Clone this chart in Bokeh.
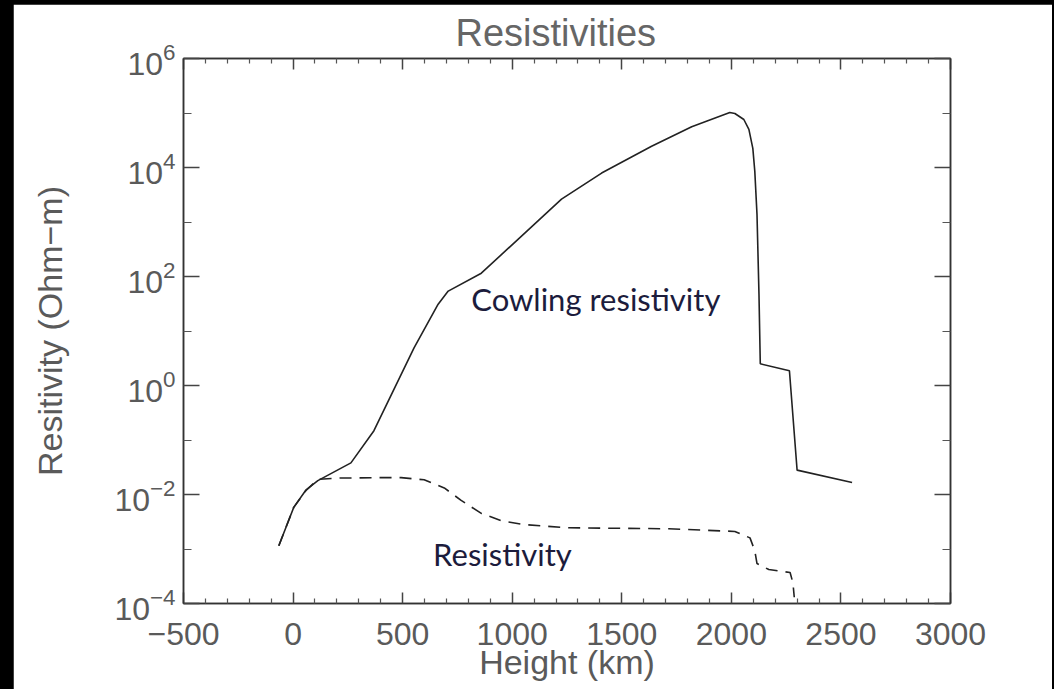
from bokeh.plotting import figure
from bokeh.models import (LinearAxis, LogAxis, FixedTicker, CustomJSTickFormatter,
                          Label, Range1d)
from bokeh.layouts import column
from bokeh.embed import file_html
from bokeh.resources import INLINE

# ---------------- data ----------------
cowling_height = [-65, 3, 58, 113, 264, 369, 552, 662, 708, 859, 1225, 1408,
                  1636, 1819, 1993, 2016, 2057, 2080, 2098, 2107, 2117, 2126, 2132,
                  2265, 2300, 2551]
cowling_res = [1.15e-3, 5.8e-3, 1.2e-2, 1.8e-2, 3.8e-2, 0.148, 4.9, 31, 54, 115, 2630,
               7900, 24500, 56000, 102000, 98000, 76000, 50000, 22400, 8500,
               1380, 48, 2.5, 1.86, 0.028, 0.0166]

res_height = [-65, 3, 58, 113, 200, 400, 493, 598, 690, 767, 859, 950, 1055, 1257,
              1714, 2016, 2085, 2107, 2117, 2171, 2268, 2281, 2287]
res_res = [1.15e-3, 5.8e-3, 1.17e-2, 1.9e-2, 2.0e-2, 2.04e-2, 2.04e-2, 1.86e-2,
           1.32e-2, 7.8e-3, 4.5e-3, 3.3e-3, 2.8e-3, 2.45e-3, 2.35e-3, 2.1e-3, 1.6e-3,
           9.3e-4, 5.4e-4, 4.2e-4, 3.7e-4, 2.4e-4, 1.3e-4]

x_major = [-500, 0, 500, 1000, 1500, 2000, 2500, 3000]
x_minor = [v for v in range(-500, 3001, 100) if v % 500 != 0]
y_major = [1e-4, 1e-2, 1e0, 1e2, 1e4, 1e6]
y_minor = [1e-3, 1e-1, 1e1, 1e3, 1e5]
x_label_overrides = {-500: "\u2212500"}

title_text = "Resistivities"
x_title = "Height (km)"
y_title = "Resitivity (Ohm\u2212m)"
cowling_label = "Cowling resistivity"
res_label = "Resistivity"

# ---------------- figure ----------------
AX = "#333333"
TXT = "#5a5a5a"
FONT = "Liberation Sans"

p = figure(width=1039, height=685, x_range=Range1d(-500, 3000),
           y_range=Range1d(1e-4, 1e6), y_axis_type="log",
           output_backend="svg", toolbar_location=None,
           min_border_left=170, min_border_right=102, min_border_top=53,
           min_border_bottom=86, margin=(4, 2, 0, 13),
           background_fill_color="white", border_fill_color="white")

p.title.text = title_text
p.title.align = "left"
p.title.offset = 272
p.title.text_font = FONT
p.title.text_font_size = "38px"
p.title.text_font_style = "normal"
p.title.text_color = "#666666"

p.xgrid.grid_line_color = None
p.ygrid.grid_line_color = None
p.outline_line_color = AX
p.outline_line_width = 1.5
p.outline_line_alpha = 1.0

xt = FixedTicker(ticks=x_major, minor_ticks=x_minor)
yt = FixedTicker(ticks=y_major, minor_ticks=y_minor)

xa = p.xaxis[0]
xa.ticker = xt
xa.major_label_overrides = x_label_overrides
ya = p.yaxis[0]
ya.ticker = yt

blank = CustomJSTickFormatter(code="return ''")
top = LinearAxis(ticker=xt, formatter=blank, major_label_text_font_size="1px",
                 major_label_standoff=0)
right = LogAxis(ticker=yt, formatter=blank, major_label_text_font_size="1px",
                major_label_standoff=0)
p.add_layout(top, "above")
p.add_layout(right, "right")

for ax in (xa, top):
    ax.major_tick_in = 11
    ax.major_tick_out = 0
    ax.minor_tick_in = 5
    ax.minor_tick_out = 0
for ax in (ya, right):
    ax.major_tick_in = 16
    ax.major_tick_out = 0
    ax.minor_tick_in = 8
    ax.minor_tick_out = 0
for ax in (xa, ya, top, right):
    ax.axis_line_color = AX
    ax.axis_line_width = 1.5
    ax.major_tick_line_color = "#444444"
    ax.minor_tick_line_color = "#555555"
    ax.major_tick_line_width = 1.5
    ax.minor_tick_line_width = 1.2
    ax.major_label_text_font = FONT
    ax.major_label_text_color = TXT
    ax.axis_label_text_font = FONT
    ax.axis_label_text_color = TXT
    ax.axis_label_text_font_style = "normal"

xa.major_label_text_font_size = "32px"
xa.major_label_standoff = 19
xa.axis_label = x_title
xa.axis_label_text_font_size = "34px"
xa.axis_label_standoff = -5

ya.major_label_text_font_size = "32px"
ya.major_label_standoff = 8
ya.axis_label = y_title
ya.axis_label_text_font_size = "34px"
ya.axis_label_standoff = 42

# ---------------- curves ----------------
p.line(cowling_height, cowling_res, line_color="#222222", line_width=1.6)
p.line(res_height, res_res, line_color="#222222", line_width=1.6,
       line_dash="12 8")

# ---------------- annotations ----------------
p.add_layout(Label(x=813, y=38.5, text=cowling_label, text_font="Lato",
                   text_font_size="31px", text_color="#1c1c3c",
                   text_align="left", text_baseline="alphabetic"))
p.add_layout(Label(x=639, y=8.2e-4, text=res_label, text_font="Lato",
                   text_font_size="31px", text_color="#1c1c3c",
                   text_align="left", text_baseline="alphabetic"))

layout = column(p, styles={"background-color": "black"})

open("out.html", "w").write(file_html(layout, INLINE))
